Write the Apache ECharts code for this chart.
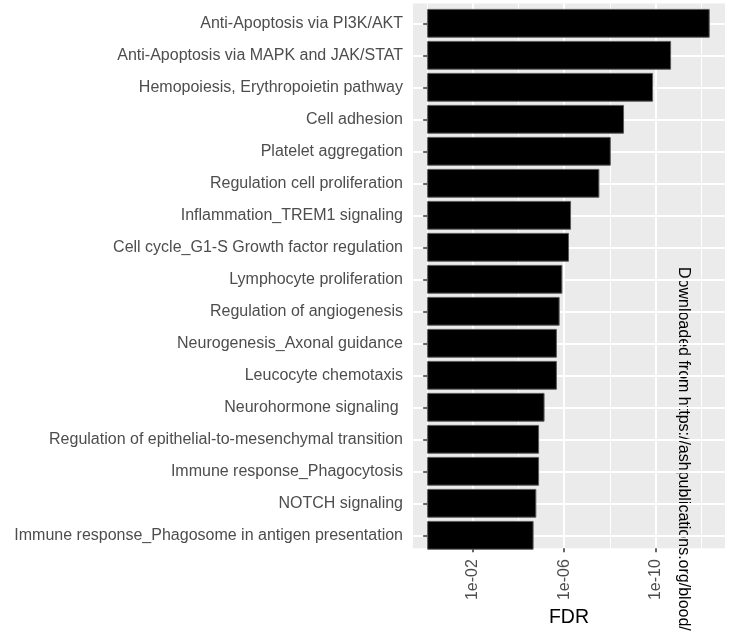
<!DOCTYPE html>
<html>
<head>
<meta charset="utf-8">
<script src="https://cdn.jsdelivr.net/npm/echarts@6/dist/echarts.min.js"></script>
<style>
  html, body { margin: 0; padding: 0; background: #fff; }
  #main { width: 734px; height: 633px; }
</style>
</head>
<body>
<div id="main"></div>
<script>
// pathways, top to bottom
const pathways = [
  'Anti-Apoptosis via PI3K/AKT',
  'Anti-Apoptosis via MAPK and JAK/STAT',
  'Hemopoiesis, Erythropoietin pathway',
  'Cell adhesion',
  'Platelet aggregation',
  'Regulation cell proliferation',
  'Inflammation_TREM1 signaling',
  'Cell cycle_G1-S Growth factor regulation',
  'Lymphocyte proliferation',
  'Regulation of angiogenesis',
  'Neurogenesis_Axonal guidance',
  'Leucocyte chemotaxis',
  'Neurohormone signaling ',
  'Regulation of epithelial-to-mesenchymal transition',
  'Immune response_Phagocytosis',
  'NOTCH signaling',
  'Immune response_Phagosome in antigen presentation'
];
// -log10(FDR)
const negLogFDR = [12.37, 10.68, 9.89, 8.62, 8.04, 7.54, 6.30, 6.21, 5.92,
                   5.80, 5.68, 5.68, 5.14, 4.90, 4.90, 4.78, 4.66];
const majorBreaks = [2, 6, 10];
const minorBreaks = [0, 4, 8, 12];

const xMin = -0.62, xMax = 13.04;
const textFont = 'Liberation Sans';

const chart = echarts.init(document.getElementById('main'));

const option = {
  animation: false,
  textStyle: { fontFamily: textFont },
  grid: [
    // panel (grey background + vertical grid lines)
    { left: 413, right: 9, top: 3.5, bottom: 79, show: true,
      backgroundColor: '#EBEBEB', borderWidth: 0 },
    // bars, categories spaced from first to last row centre
    { left: 413, right: 9, top: 23.3, bottom: 97.7 }
  ],
  xAxis: [
    {
      gridIndex: 0, type: 'value', min: xMin, max: xMax, position: 'bottom',
      axisLine: { show: false },
      axisTick: { show: true, customValues: majorBreaks, length: 4,
                  lineStyle: { color: '#333', width: 1.5 } },
      axisLabel: { customValues: majorBreaks, rotate: 90, margin: 11,
                   fontSize: 16, color: '#4D4D4D', fontFamily: textFont,
                   formatter: v => '1e-' + String(v).padStart(2, '0') },
      splitLine: { show: true, lineStyle: { color: '#FFFFFF', width: 2 } },
      name: 'FDR', nameLocation: 'middle', nameGap: 54,
      nameTextStyle: { fontSize: 19.5, color: '#000', fontFamily: textFont }
    },
    {
      gridIndex: 0, type: 'value', min: xMin, max: xMax, position: 'bottom',
      axisLine: { show: false },
      axisTick: { show: false, customValues: minorBreaks },
      axisLabel: { show: false, customValues: minorBreaks },
      splitLine: { show: true, lineStyle: { color: '#FFFFFF', width: 1 } }
    },
    {
      gridIndex: 1, type: 'value', min: xMin, max: xMax, show: false
    }
  ],
  yAxis: [
    { gridIndex: 0, type: 'value', show: false },
    {
      gridIndex: 1, type: 'category', data: pathways, inverse: true,
      boundaryGap: false,
      axisLine: { show: false },
      axisTick: { show: true, length: 4, lineStyle: { color: '#333', width: 1.5 } },
      axisLabel: { margin: 10, fontSize: 16, color: '#4D4D4D', fontFamily: textFont },
      splitLine: { show: true, lineStyle: { color: '#FFFFFF', width: 2 } }
    }
  ],
  series: [
    {
      type: 'bar', xAxisIndex: 2, yAxisIndex: 1,
      data: negLogFDR, barWidth: '90%', clip: false,
      itemStyle: { color: '#000', borderColor: '#5A5A5A', borderWidth: 1 }
    }
  ],
  graphic: [
    {
      type: 'text', x: 683, y: 267, rotation: -Math.PI / 2, silent: true,
      style: { text: 'Downloaded from https://ashpublications.org/blood/',
               fill: '#000', font: '16px "Liberation Sans"',
               textAlign: 'left', textVerticalAlign: 'middle' }
    }
  ]
};

chart.setOption(option);
</script>
</body>
</html>
